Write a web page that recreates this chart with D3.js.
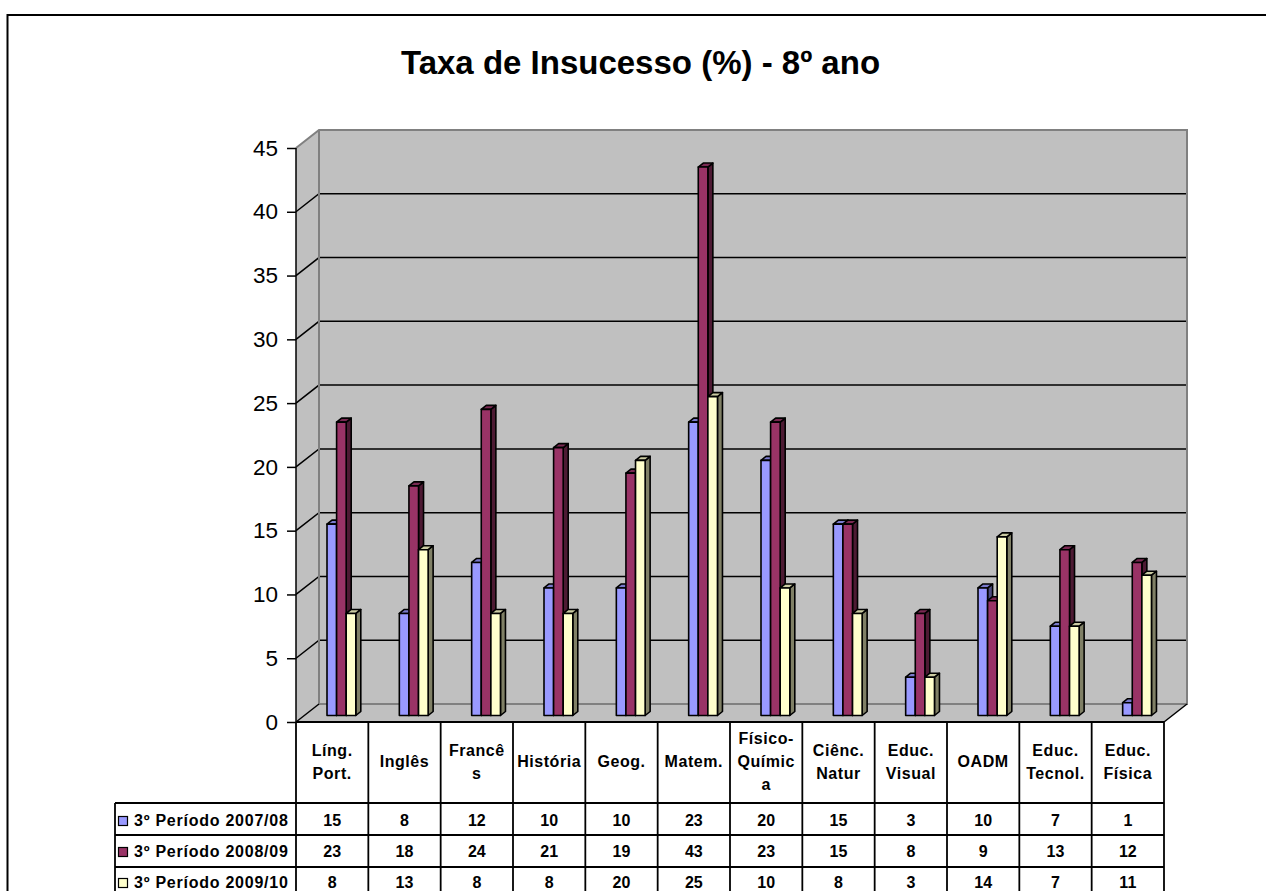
<!DOCTYPE html>
<html><head><meta charset="utf-8">
<script src="https://cdn.jsdelivr.net/npm/d3@7/dist/d3.min.js"></script>
<style>html,body{margin:0;padding:0;background:#fff;overflow:hidden}svg{display:block}text{font-family:"Liberation Sans",Arial,sans-serif}</style>
</head><body><svg id="c" width="1266" height="891"></svg>
<script>
const title = "Taxa de Insucesso (%) - 8º ano";
const categories = [["Líng.","Port."],["Inglês"],["Francê","s"],["História"],["Geog."],["Matem."],["Físico-","Químic","a"],["Ciênc.","Natur"],["Educ.","Visual"],["OADM"],["Educ.","Tecnol."],["Educ.","Física"]];
const seriesNames = ["3º Período 2007/08","3º Período 2008/09","3º Período 2009/10"];
const s0708 = [15,8,12,10,10,23,20,15,3,10,7,1];
const s0809 = [23,18,24,21,19,43,23,15,8,9,13,12];
const s0910 = [8,13,8,8,20,25,10,8,3,14,7,11];
const seriesValues = [s0708,s0809,s0910];
const fills = ["#9999ff","#993366","#ffffcc"];
const tops = ["#7a7acc","#7a2952","#cccca3"];
const sides = ["#4d4d80","#4d1a33","#808066"];
const ticks = d3.range(0,50,5);

const svg = d3.select("#c");
const L=296,R=1164,dx=23,dy=-18,Y0=722,Y45=148;
const x = d3.scaleBand().domain(d3.range(12)).range([L,R]).paddingInner(0).paddingOuter(0);
const y = d3.scaleLinear().domain([0,45]).range([Y0,Y45]);

// outer frame: left and top edges only, top runs off the page
svg.append("path").attr("d","M7.5,891V15H1266").attr("fill","none").attr("stroke","#000").attr("stroke-width",2);
svg.append("text").attr("x",640.5).attr("y",74).attr("text-anchor","middle").attr("font-size",33).attr("font-weight","bold").text(title);

// walls & floor
svg.append("path").attr("d",`M${L},${y(0)}L${L+dx},${y(0)+dy}V${y(45)+dy}L${L},${y(45)}Z`).attr("fill","#c0c0c0");
svg.append("rect").attr("x",L+dx).attr("y",y(45)+dy).attr("width",R-L).attr("height",y(0)-y(45)).attr("fill","#c0c0c0");
svg.append("path").attr("d",`M${L},${y(0)}L${L+dx},${y(0)+dy}H${R+dx}L${R},${y(0)}Z`).attr("fill","#c0c0c0");
// gridlines
ticks.slice(1,-1).forEach(t=>{
  svg.append("path").attr("d",`M${L},${y(t)}L${L+dx},${y(t)+dy}H${R+dx}`).attr("fill","none").attr("stroke","#000").attr("stroke-width",1.5);
});
// gray edges
svg.append("path").attr("d",`M${L},${y(45)}L${L+dx},${y(45)+dy}H${R+dx}V${y(0)+dy}H${L+dx} M${L+dx},${y(45)+dy}V${y(0)+dy}`).attr("fill","none").attr("stroke","#808080").attr("stroke-width",2);
svg.append("path").attr("d",`M${L},${y(0)}L${L+dx},${y(0)+dy} M${R},${y(0)}L${R+dx},${y(0)+dy}`).attr("fill","none").attr("stroke","#000").attr("stroke-width",1.5);

// axis
const axis = d3.axisLeft(y).tickValues(ticks).tickSize(9).tickPadding(9);
const ga = svg.append("g").attr("transform",`translate(${L},0)`).call(axis);
ga.selectAll("path,line").attr("stroke","#000").attr("stroke-width",1.5);
ga.select(".domain").attr("d",`M0,${Y45}V${Y0}`);
ga.selectAll("text").attr("font-size",22.5).attr("fill","#000").attr("font-family","Liberation Sans, Arial, sans-serif");

// bars
const bw=9.6, bdx=5, bdy=4, base=6.5;
const offset=31;
const gb = svg.append("g").attr("stroke","#000").attr("stroke-width",1.6).attr("stroke-linejoin","round");
const yv = v => y(v)-base;
categories.forEach((c,i)=>{
  seriesValues.forEach((vals,s)=>{
    const v=vals[i], x0=x(i)+offset+s*bw, x1=x0+bw, yt=yv(v), yb=yv(0);
    const g=gb.append("g");
    g.append("path").attr("d",`M${x1},${yb}L${x1+bdx},${yb-bdy}V${yt-bdy}L${x1},${yt}Z`).attr("fill",sides[s]);
    g.append("path").attr("d",`M${x0},${yt}L${x0+bdx},${yt-bdy}H${x1+bdx}L${x1},${yt}Z`).attr("fill",tops[s]);
    g.append("rect").attr("x",x0).attr("y",yt).attr("width",bw).attr("height",yb-yt).attr("fill",fills[s]);
  });
});

// table
const T0=Y0, rowY=[T0,803,835,867,899], TL=115;
const gt=svg.append("g").attr("stroke","#000").attr("stroke-width",1.8);
d3.range(13).forEach(i=>{const X=L+i*x.bandwidth(); gt.append("line").attr("x1",X).attr("x2",X).attr("y1",T0).attr("y2",899);});
gt.append("line").attr("x1",TL).attr("x2",TL).attr("y1",803).attr("y2",899);
gt.append("line").attr("x1",L).attr("x2",R).attr("y1",T0).attr("y2",T0);
rowY.slice(1).forEach(r=>gt.append("line").attr("x1",TL).attr("x2",R).attr("y1",r).attr("y2",r));

const lh=23, fs=16, ls=0.55;
const base0=825.5, rowStep=31;
categories.forEach((lines,i)=>{
  const cx=x(i)+x.bandwidth()/2, cy=761.5;
  lines.forEach((t,k)=>{
    svg.append("text").attr("x",cx).attr("y",cy+(k-(lines.length-1)/2)*lh+5.5).attr("text-anchor","middle").attr("font-size",fs).attr("letter-spacing",ls).attr("font-weight","bold").text(t);
  });
  seriesValues.forEach((vals,s)=>{
    svg.append("text").attr("x",cx).attr("y",base0+s*rowStep).attr("text-anchor","middle").attr("font-size",fs).attr("font-weight","bold").text(vals[i]);
  });
});
seriesNames.forEach((n,s)=>{
  svg.append("rect").attr("x",118.5).attr("y",816.5+s*rowStep).attr("width",9).attr("height",9).attr("fill",fills[s]).attr("stroke","#000").attr("stroke-width",1.2);
  svg.append("text").attr("x",134).attr("y",base0+s*rowStep).attr("font-size",fs).attr("letter-spacing",ls+0.2).attr("font-weight","bold").text(n);
});
</script></body></html>
